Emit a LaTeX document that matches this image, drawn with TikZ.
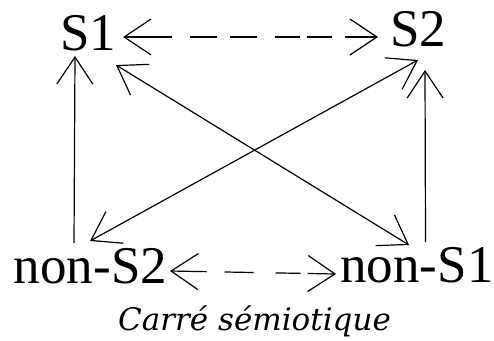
\documentclass[tikz,border=0pt]{standalone}
\usepackage{fontspec}
\setmainfont{Liberation Serif}
\newfontfamily\capfont{DejaVu Serif}
\usetikzlibrary{arrows.meta}
\begin{document}
\begin{tikzpicture}[x=1pt,y=-1pt,
  lbl/.style={inner sep=0pt, anchor=base, font=\fontsize{53}{60}\selectfont},
  captxt/.style={inner sep=0pt, anchor=base, font=\capfont\itshape\fontsize{31}{34}\selectfont},
  conn/.style={line width=1.2pt, arrows={Straight Barb[length=27pt,width=36pt]-Straight Barb[length=27pt,width=36pt]}},
  uni/.style={line width=1.2pt, -{Straight Barb[length=27pt,width=36pt]}}]
\useasboundingbox (0,0) rectangle (494,340);
\node[lbl] (S1) at (88,50) {S1};
\node[lbl] (S2) at (418.5,46) {S2};
\node[lbl] (nS2) at (90.5,283) {non-S2};
\node[lbl] (nS1) at (417,282) {non-S1};
\node[captxt] (cap) at (254.5,330) {Carré sémiotique};
% dashed contraries
\draw[conn, dash pattern=on 47pt off 18pt on 27pt off 13pt on 27pt off 18pt on 25pt off 7pt on 25pt off 13pt on 60pt]
  ([shift={(35,-13)}]S1.base) -- ([shift={(-40.5,-9)}]S2.base);
\draw[conn, dash pattern=on 35pt off 18pt on 29pt off 22pt on 25pt off 7pt on 60pt]
  ([shift={(79.5,-12)}]nS2.base) -- ([shift={(-81,-8)}]nS1.base);
% verticals
\draw[uni] ([shift={(-16.5,-40)}]nS2.base) -- ([shift={(-13,6)}]S1.base);
\draw[uni] ([shift={(8.5,-40)}]nS1.base) -- ([shift={(6.5,24)}]S2.base);
% diagonals
\draw[conn] ([shift={(-0.5,-42)}]nS2.base) -- ([shift={(-0.5,14)}]S2.base);
\draw[conn] ([shift={(28,15)}]S1.base) -- ([shift={(-8,-37)}]nS1.base);
\end{tikzpicture}
\end{document}
